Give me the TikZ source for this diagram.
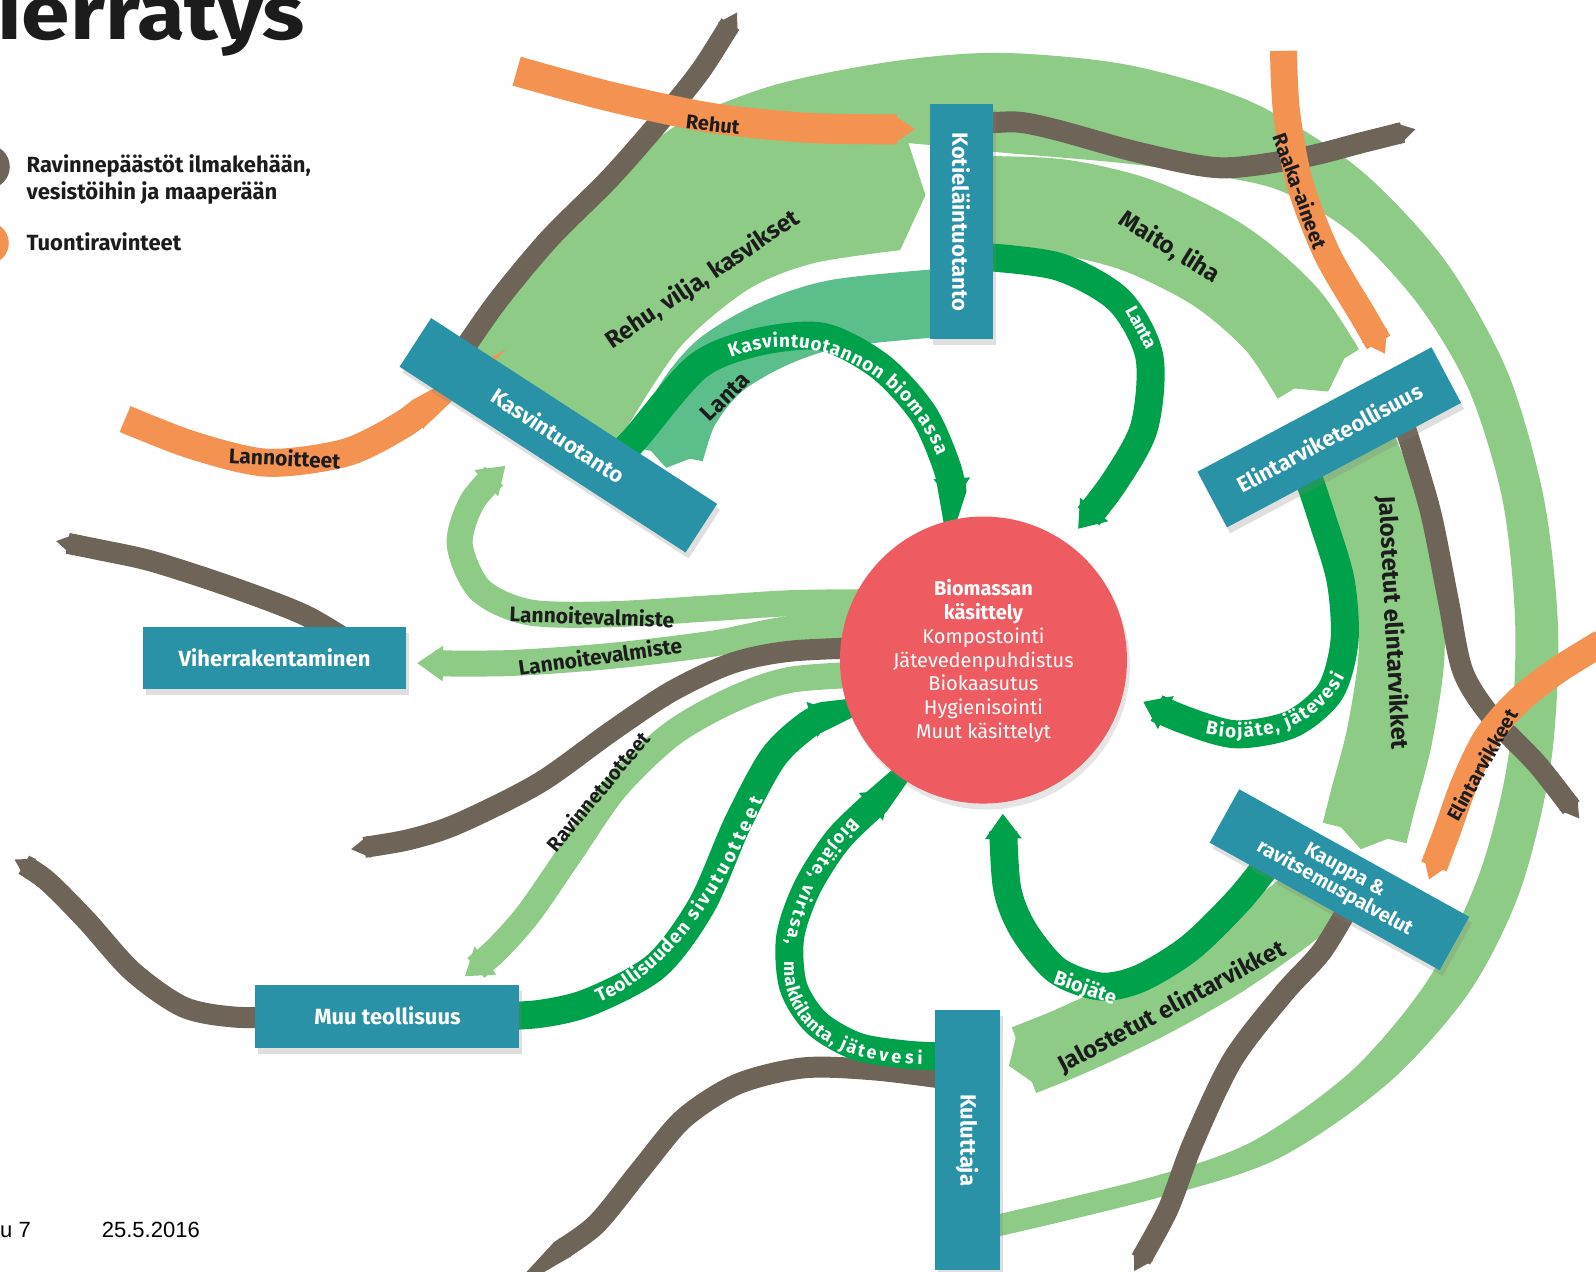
\documentclass[tikz,border=0pt]{standalone}
\usepackage{fontspec}
\setmainfont{Fira Sans}
\newfontfamily\arialf{Liberation Sans}
\usetikzlibrary{arrows.meta,shadows}
\definecolor{lgC}{RGB}{142,203,134}
\definecolor{mgC}{RGB}{92,190,138}
\definecolor{dgC}{RGB}{0,161,75}
\definecolor{brC}{RGB}{111,100,88}
\definecolor{orC}{RGB}{244,146,82}
\definecolor{boxC}{RGB}{41,146,166}
\definecolor{redC}{RGB}{238,92,98}
\definecolor{inkC}{RGB}{28,28,28}
\pgfdeclarelayer{l1}\pgfdeclarelayer{l2}\pgfdeclarelayer{l3}\pgfdeclarelayer{l4}
\pgfsetlayers{l1,l2,l3,l4,main}
\tikzset{
  box/.style={fill=boxC, text=white, font=\bfseries\fontsize{22}{24}\selectfont, inner sep=0pt, align=center,
    drop shadow={shadow xshift=3pt, shadow yshift=-6pt, opacity=0.25}},
  blab/.style={inner sep=0pt, text=inkC, font=\bfseries\fontsize{#1}{#1}\selectfont},
  wlab/.style={inner sep=0pt, text=white, font=\bfseries\fontsize{#1}{#1}\selectfont},
  lgband/.style={draw=lgC, line width=#1, -{Triangle[width=0pt 1, length=0pt 0.35]}},
  mgband/.style={draw=mgC, line width=#1, -{Triangle[width=0pt 1, length=0pt 0.35]}},
  lgarrow/.style={draw=lgC, line width=26pt, -{Triangle[width=0pt 1.3, length=0pt 1]}},
  dgarrow/.style={draw=dgC, line width=28pt, -{Triangle[width=0pt 1.25, length=0pt 0.9]}},
  brline/.style={draw=brC, line width=21pt, -{Triangle[width=0pt 1, length=0pt 0.9]}},
  orline/.style={draw=orC, line width=#1, -{Triangle[width=0pt 1, length=0pt 0.8]}},
  chr/.style={inner sep=0pt, font=\bfseries\fontsize{#1}{#1}\selectfont, sloped, allow upside down, text height=16pt, text depth=3pt},
}
% letters set one by one along a curve, spaced by their own widths plus tracking
% #1 size, #2 tracking (pt), #3 colour, #4 curve, #5 curve length (pt), #6 letters, #7 shift (fraction)
\newlength\ctpos
\newlength\ctw
\newcommand\curvetext[7]{%
  \font\ctfont="Fira Sans/B" at #1pt
  \global\ctpos=0pt
  \foreach \c in {#6}{\setbox0=\hbox{\ctfont\c}\global\advance\ctpos by \wd0 \global\advance\ctpos by #2pt }%
  \pgfmathsetmacro\ctstart{0.5-0.5*(\ctpos-#2)/#5+#7}%
  \global\ctpos=0pt
  \foreach \c in {#6}{%
    \setbox0=\hbox{\ctfont\c}%
    \global\ctw=\wd0
    \pgfmathsetmacro\p{\ctstart+(\ctpos+0.5*\ctw)/#5}%
    \path #4 node[chr=#1, text=#3, pos=\p] {\c};%
    \global\advance\ctpos by \ctw
    \global\advance\ctpos by #2pt
  }}
\begin{document}
\begin{tikzpicture}[x=1.017pt,y=-1.017pt]
\useasboundingbox (0,0) rectangle (1569.3,1250.7);
\begin{pgfonlayer}{l1}
\fill[white] (0,0) rectangle (1569.3,1250.7);
\end{pgfonlayer}

% ---------- nodes ----------
\node[circle, fill=redC, minimum size=287pt, inner sep=0pt, drop shadow={shadow xshift=3pt,shadow yshift=-6pt,opacity=0.2}] (bio) at (967,649) {};
\node[text=white, align=center, font=\fontsize{20}{23.8}\selectfont, inner sep=0pt] (biotxt) at (967,650)
  {\textbf{Biomassan}\\\textbf{käsittely}\\Kompostointi\\Jätevedenpuhdistus\\Biokaasutus\\Hygienisointi\\Muut käsittelyt};

\node[box, minimum width=235pt, minimum height=63pt, rotate=-90] (koti) at (945,218) {Kotieläintuotanto};
\node[box, minimum width=341pt, minimum height=58pt, rotate=-33] (kasvi) at (549,428) {Kasvintuotanto};
\node[box, minimum width=265pt, minimum height=63pt, rotate=28] (elin) at (1307,430) {Elintarviketeollisuus};
\node[box, minimum width=263pt, minimum height=61pt, rotate=-29, font=\bfseries\fontsize{20}{21}\selectfont] (kauppa) at (1317,865) {Kauppa \&\\ravitsemuspalvelut};
\node[box, minimum width=260pt, minimum height=65pt, rotate=-90] (kulu) at (951,1121) {Kuluttaja};
\node[box, minimum width=263pt, minimum height=62pt] (viher) at (270,647) {Viherrakentaminen};
\node[box, minimum width=264pt, minimum height=63pt] (muu) at (381,999) {Muu teollisuus};

% ---------- named ends ----------
\coordinate (maitoS) at (950,200);
\coordinate (jaloS) at (1330,440);
\coordinate (jalo2S) at (1300,875);
\coordinate (lannS1) at (880,592);
\coordinate (lannS2) at (880,614);
\coordinate (ravS) at (880,662);
\coordinate (lantaS) at (935,297);
\coordinate (bmS) at (600,455);
\coordinate (ldS) at (960,252);
\coordinate (bjS) at (1285,465);
\coordinate (bbS) at (1250,845);
\coordinate (bvS) at (935,1039);
\coordinate (tlS) at (470,1000);
\coordinate (b1S) at (455,345);
\coordinate (b2S) at (960,122);
\coordinate (b3S) at (1380,415);
\coordinate (b4S) at (1330,885);
\coordinate (b5S) at (940,1062);
\coordinate (b6S) at (290,1000);
\coordinate (b7S) at (880,636);
\coordinate (b8S) at (350,635);

% ---------- light green bands ----------
\begin{pgfonlayer}{l1}
\fill[lgC] plot[smooth] coordinates {(462,350) (520,265) (590,190) (664,124) (760,84) (880,60) (985,52) (1110,64) (1230,100) (1335,165) (1420,255) (1482,365) (1518,490) (1532,620) (1525,750) (1495,875) (1445,975) (1365,1065) (1255,1140) (1130,1180) (955,1222)}
  -- plot[smooth] coordinates {(955,1200) (1130,1158) (1232,1122) (1330,1052) (1405,962) (1455,858) (1483,745) (1490,620) (1478,495) (1445,385) (1395,300) (1330,230) (1260,188) (1190,172) (1100,160) (985,150) (880,140) (760,140) (660,170) (570,250) (505,330)} -- cycle;
\fill[lgC] plot[smooth] coordinates {(590,470) (613,426) (669,341) (735,285) (799,259) (885,246)} -- (910,192) -- (893,140)
  -- plot[smooth] coordinates {(800,132) (700,148) (620,190) (540,260) (480,330) (462,350)} -- cycle;
\draw[lgband=95pt] plot[smooth] coordinates {(maitoS) (1040,203) (1120,222) (1200,262) (1262,316) (1306,385)};
\draw[lgband=86pt] plot[smooth] coordinates {(jaloS) (1355,500) (1374,575) (1378,645) (1366,725) (1349,790) (1338,835)};
\draw[lgband=70pt] plot[smooth] coordinates {(jalo2S) (1262,905) (1200,948) (1125,990) (1050,1025) (992,1048)};
\draw[lgarrow] plot[smooth] coordinates {(lannS1) (780,593) (700,598) (600,604) (520,602) (472,580) (452,535) (465,492) (497,458)};
\draw[lgarrow] plot[smooth] coordinates {(lannS2) (780,618) (700,633) (600,645) (500,652) (410,652)};
\draw[lgarrow] plot[smooth] coordinates {(ravS) (780,668) (720,688) (660,722) (605,775) (560,840) (520,898) (487,935) (457,960)};
\draw[mgband=68pt] plot[smooth] coordinates {(lantaS) (824,308) (759,329) (706,361) (672,405) (655,460)};
\end{pgfonlayer}

% ---------- brown ----------
\begin{pgfonlayer}{l2}
\draw[brline] plot[smooth] coordinates {(b1S) (490,295) (540,235) (600,175) (650,118) (690,68) (725,12)};
\draw[brline] plot[smooth] coordinates {(b2S) (1000,120) (1040,128) (1120,150) (1200,165) (1280,155) (1340,140) (1392,127)};
\draw[brline] plot[smooth] coordinates {(b3S) (1406,501) (1424,590) (1438,659) (1465,703) (1512,752) (1553,805)};
\draw[brline] plot[smooth] coordinates {(b4S) (1300,935) (1262,977) (1212,1042) (1173,1124) (1148,1190) (1115,1250)};
\draw[brline] plot[smooth] coordinates {(b5S) (860,1052) (790,1050) (725,1066) (672,1100) (630,1150) (585,1205) (540,1236)};
\draw[brline] plot[smooth] coordinates {(b6S) (230,1000) (180,990) (130,955) (85,905) (45,865) (14,845)};
\draw[brline] plot[smooth] coordinates {(b7S) (780,640) (720,652) (660,680) (600,720) (530,770) (450,810) (400,826) (345,835)};
\draw[brline] plot[smooth] coordinates {(b8S) (300,605) (230,578) (150,552) (95,540) (55,532)};
\end{pgfonlayer}

% ---------- orange ----------
\begin{pgfonlayer}{l3}
\coordinate (o1S) at (508,70);
\coordinate (o2S) at (123,412);
\coordinate (o3S) at (1262,50);
\coordinate (o4S) at (1575,632);
\draw[orline=30pt] plot[smooth] coordinates {(o1S) (600,95) (700,116) (800,126) (900,127)};
\draw[orline=28pt] plot[smooth] coordinates {(o2S) (190,438) (263,455) (340,445) (395,418) (423,396)};
\draw[orline=27pt] plot[smooth] coordinates {(o3S) (1265,110) (1278,180) (1305,250) (1340,310) (1362,348)};
\draw[orline=27pt] plot[smooth] coordinates {(o4S) (1530,660) (1492,690) (1462,725) (1440,770) (1422,820) (1405,865)};
\end{pgfonlayer}

% ---------- dark green ----------
\begin{pgfonlayer}{l4}
\draw[dgarrow] plot[smooth] coordinates {(bmS) (624,432) (685,361) (742,337) (808,331) (865,360) (908,407) (932,462) (937,495)};
\draw[dgarrow] plot[smooth] coordinates {(ldS) (1040,262) (1100,295) (1130,350) (1125,420) (1095,475) (1060,520)};
\draw[dgarrow] plot[smooth] coordinates {(bjS) (1300,510) (1318,570) (1322,630) (1308,680) (1270,712) (1215,722) (1165,708) (1124,690)};
\draw[dgarrow] plot[smooth] coordinates {(bbS) (1218,885) (1170,932) (1121,962) (1082,970) (1039,954) (1006,914) (990,872) (986,800)};
\draw[dgarrow] plot[smooth] coordinates {(bvS) (892,1037) (843,1029) (803,1006) (780,970) (777,921) (794,872) (826,823) (875,777)};
\draw[dgarrow] plot[smooth] coordinates {(tlS) (530,997) (580,985) (645,950) (690,890) (725,810) (760,745) (795,712) (822,700)};
\end{pgfonlayer}

% ---------- labels ----------
\node[blab=24, rotate=34] (tRehu) at (691,275) {Rehu, vilja, kasvikset};
\node[blab=24, rotate=-32] (tMaito) at (1150,243) {Maito, liha};
\node[blab=23, rotate=45] (tLanta) at (713,390) {Lanta};
\node[blab=20, rotate=-6] (tRehut) at (701,122) {Rehut};
\node[blab=21, rotate=-3] (tLann) at (280,450) {Lannoitteet};
\node[blab=20, rotate=-70] (tRaaka) at (1279,188) {Raaka-aineet};
\node[blab=19.5, rotate=61] (tElint) at (1457,752) {Elintarvikkeet};
\node[blab=24, rotate=28] (tJalo2) at (1152,990) {Jalostetut elintarvikket};
\node[blab=24, rotate=-87] (tJalo1) at (1370,612) {Jalostetut elintarvikket};
\node[blab=21, rotate=-2] (tLv1) at (582,606) {Lannoitevalmiste};
\node[blab=21, rotate=8] (tLv2) at (590,645) {Lannoitevalmiste};
\node[blab=20, rotate=50] (tRav) at (588,778) {Ravinnetuotteet};
\node[wlab=18, rotate=-62] (tLantaW) at (1122,322) {Lanta};
\node[wlab=20, rotate=-19] (tBioj) at (1067,972) {Biojäte};

% curved white labels
\curvetext{19}{1.2}{white}{(703,352) .. controls (790,305) and (905,360) .. (933,462)}{294}
  {K,a,s,v,i,n,t,u,o,t,a,n,n,o,n,~,b,i,o,m,a,s,s,a}{0}
\curvetext{19}{1.2}{white}{(1165,708) .. controls (1225,735) and (1308,712) .. (1325,640)}{205}
  {B,i,o,j,ä,t,e,{,},~,j,ä,t,e,v,e,s,i}{0}
\curvetext{19}{1.4}{white}{(575,985) .. controls (650,958) and (708,878) .. (752,765)}{290}
  {T,e,o,l,l,i,s,u,u,d,e,n,~,s,i,v,u,t,u,o,t,t,e,e,t}{0}
\curvetext{18}{1.3}{white}{(872,782) .. controls (825,818) and (785,870) .. (778,938)}{188}
  {B,i,o,j,ä,t,e,{,},~,v,i,r,t,s,a,{,}}{0.09}
\curvetext{18}{1.4}{white}{(778,942) .. controls (772,1010) and (830,1042) .. (920,1040)}{205}
  {m,a,k,k,i,l,a,n,t,a,{,},~,j,ä,t,e,v,e,s,i}{-0.015}

% ---------- title, legend, footer ----------
\node[anchor=base west, inner sep=0pt, text=inkC, font=\bfseries\fontsize{76}{76}\selectfont] (title) at (-3,39) {\scalebox{1.15}[1]{\llap{k}ierrätys}};
\node[circle, fill=brC, minimum size=44pt, inner sep=0pt] (legB) at (-12,164) {};
\node[circle, fill=orC, minimum size=42pt, inner sep=0pt] (legO) at (-12,239) {};
\node[anchor=base west, inner sep=0pt, text=inkC, font=\bfseries\fontsize{22}{27}\selectfont] (legBt1) at (26,170) {Ravinnepäästöt ilmakehään,};
\node[anchor=base west, inner sep=0pt, text=inkC, font=\bfseries\fontsize{22}{27}\selectfont] (legBt2) at (26,196) {vesistöihin ja maaperään};
\node[anchor=base west, inner sep=0pt, text=inkC, font=\bfseries\fontsize{22}{27}\selectfont] (legOt) at (26,246) {Tuontiravinteet};
\node[anchor=base west, inner sep=0pt, font=\arialf\fontsize{22}{22}\selectfont] (foot1) at (0,1217) {u 7};
\node[anchor=base west, inner sep=0pt, font=\arialf\fontsize{22}{22}\selectfont] (foot2) at (100,1217) {25.5.2016};
\end{tikzpicture}
\end{document}
